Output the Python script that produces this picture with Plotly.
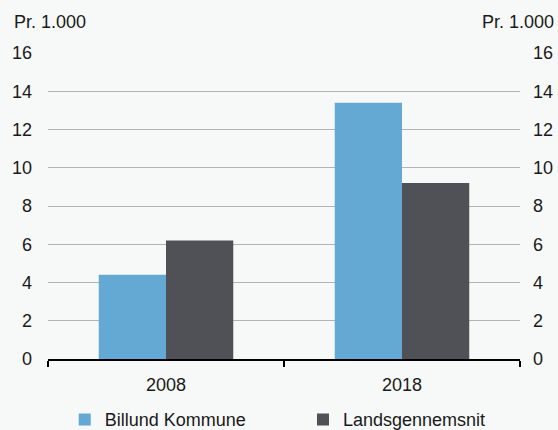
import plotly.graph_objects as go

years = ['2008', '2018']
billund = [4.4, 13.4]
lands = [6.2, 9.2]
y_ticks = [0, 2, 4, 6, 8, 10, 12, 14, 16]

BLUE = '#63a9d4'
DARK = '#505157'
BG = '#f7f8f8'
FONT = dict(family='Liberation Sans, Arial, sans-serif', size=18, color='#1a1a1a')

fig = go.Figure()
fig.add_trace(go.Bar(x=years, y=billund, name='Billund Kommune', legend='legend',
                     marker=dict(color=BLUE, line=dict(width=0))))
fig.add_trace(go.Bar(x=years, y=lands, name='Landsgennemsnit', legend='legend2',
                     marker=dict(color=DARK, line=dict(width=0))))
# invisible trace so the right-hand axis is drawn
fig.add_trace(go.Scatter(x=years, y=[0, 0], yaxis='y2', mode='markers',
                         marker=dict(opacity=0), showlegend=False, hoverinfo='skip'))

axis_common = dict(range=[0, 16], tickvals=y_ticks, showline=False, automargin=False,
                   zeroline=False, ticks='', tickfont=FONT)

legend_common = dict(orientation='h', xref='container', xanchor='left',
                     yref='container', y=0.024, yanchor='middle', font=FONT,
                     bgcolor='rgba(0,0,0,0)', itemwidth=30)

fig.update_layout(
    width=558, height=430,
    paper_bgcolor=BG, plot_bgcolor=BG,
    font=FONT,
    margin=dict(l=48, r=38, t=53, b=71, autoexpand=False),
    barmode='group', bargap=0.43, bargroupgap=0,
    xaxis=dict(type='category', showline=True, linecolor='black', linewidth=2,
               ticks='outside', ticklen=6, tickwidth=2, tickcolor='black',
               tickmode='array', tickvals=[-0.5, 0.5, 1.5], ticktext=['', '', ''],
               range=[-0.5, 1.5], showgrid=False, automargin=False),
    yaxis=dict(**axis_common, showgrid=True, gridcolor='#b3b3b3', gridwidth=1,
               ticklabelstandoff=15),
    yaxis2=dict(**axis_common, overlaying='y', side='right', showgrid=False,
                ticklabelstandoff=12),
    legend=dict(**legend_common, x=0.116),
    legend2=dict(**legend_common, x=0.543),
    annotations=[
        dict(text='Pr. 1.000', xref='paper', yref='paper', x=0, y=1.1,
             xanchor='left', yanchor='middle', xshift=-36, showarrow=False, font=FONT),
        dict(text='Pr. 1.000', xref='paper', yref='paper', x=1, y=1.1,
             xanchor='right', yanchor='middle', xshift=36, showarrow=False, font=FONT),
    ] + [
        dict(text=yr, x=i, xref='x', yref='paper', y=0, yanchor='middle', yshift=-26,
             showarrow=False, font=FONT) for i, yr in enumerate(years)
    ],
)

fig.write_html('out.html', config={'displayModeBar': False},
               post_script="document.body.style.margin='0';")
